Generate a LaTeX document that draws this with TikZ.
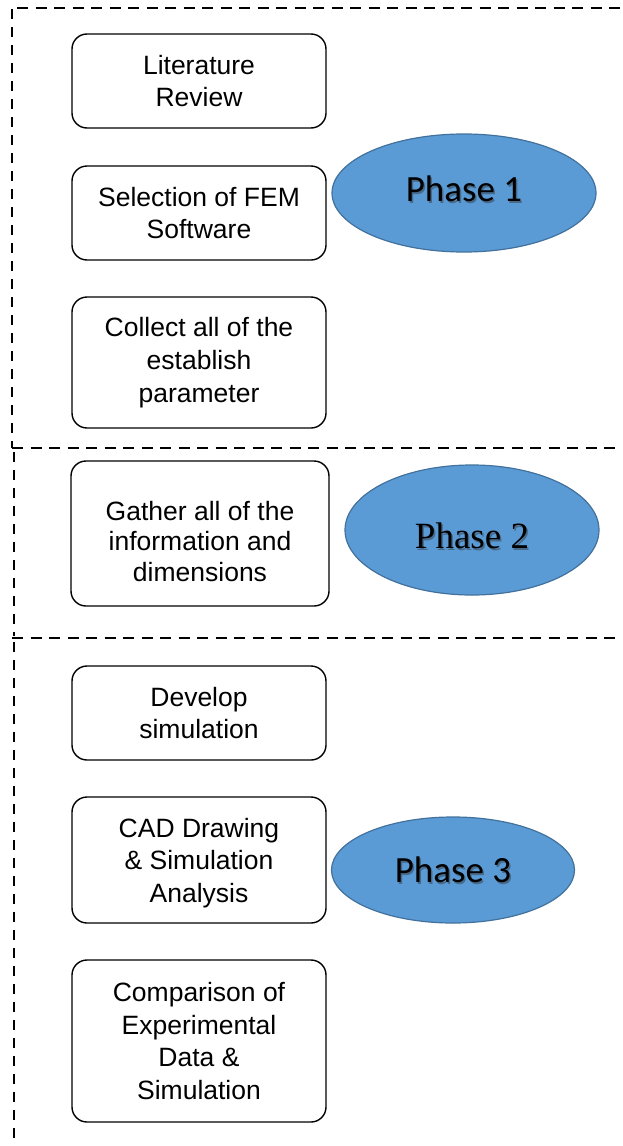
\documentclass[tikz,border=0pt]{standalone}
\usepackage{fontspec}
\setmainfont{Liberation Sans}
\newfontfamily\calibrif{Carlito}
\newfontfamily\timesf{Liberation Serif}
\usetikzlibrary{shapes.geometric}
\definecolor{phasefill}{HTML}{5B9BD5}
\definecolor{phaseedge}{HTML}{41719C}
\definecolor{shadowc}{HTML}{3A4A5A}
\tikzset{
  stepbox/.style={draw=black, line width=1.4pt, rounded corners=15pt, align=center,
    inner sep=0pt, font=\fontsize{26.5}{32.7}\selectfont},
  steptext/.style={align=center, inner sep=0pt, font=\fontsize{26.5}{32.7}\selectfont},
  phase/.style={ellipse, draw=phaseedge, line width=1.2pt, fill=phasefill, inner sep=0pt},
  phaseshadow/.style={text=shadowc, opacity=0.6},
  hdash/.style={line width=2.6pt, dash pattern=on 11pt off 7.5pt},
  vdash/.style={line width=2.6pt, dash pattern=on 10pt off 8pt},
}
\begin{document}
\begin{tikzpicture}[x=1pt,y=-1pt]
\useasboundingbox (0,0) rectangle (622,1146);
% region borders
\draw[hdash] (17,8) -- (622,8);
\draw[vdash] (12,9) -- (12,448);
\draw[hdash] (12,448) -- (622,448);
\draw[vdash] (14,452) -- (14,636);
\draw[hdash] (12,638) -- (622,638);
\draw[vdash] (14,642) -- (14,1146);
% phase 1 boxes
\node[stepbox, minimum width=254pt, minimum height=94pt] (lit) at (199,81) {Literature\\Review};
\node[stepbox, minimum width=254pt, minimum height=94pt] (sel) at (199,213) {Selection of FEM\\Software};
\node[stepbox, minimum width=254pt, minimum height=131pt] (col) at (199,362.5) {Collect all of the\\establish\\parameter};
% phase 2 box
\node[stepbox, minimum width=258pt, minimum height=145pt] (gatbox) at (200,533.5) {};
\node[steptext, font=\fontsize{26.5}{30.7}\selectfont, yshift=-8pt] (gat) at (gatbox.center) {Gather all of the\\information and\\dimensions};
% phase 3 boxes
\node[stepbox, minimum width=254pt, minimum height=94pt] (dev) at (199,713) {Develop\\simulation};
\node[stepbox, minimum width=254pt, minimum height=126pt] (cadbox) at (199,860) {};
\node[steptext, yshift=-3pt] (cad) at (cadbox.center) {CAD Drawing\\\& Simulation\\Analysis};
\node[stepbox, minimum width=254pt, minimum height=162pt] (cmp) at (199,1041) {Comparison of\\Experimental\\Data \&\\Simulation};
% phase ellipses
\node[phase, minimum width=264pt, minimum height=118pt] (p1) at (464,193) {};
\node[phaseshadow, font=\calibrif\fontsize{37}{40}\selectfont, xshift=1.5pt, yshift=2.5pt] (p1s) at (p1.center) {Phase 1};
\node[font=\calibrif\fontsize{37}{40}\selectfont, yshift=4pt] (p1t) at (p1.center) {Phase 1};
\node[phase, minimum width=254pt, minimum height=130pt] (p2) at (472,530) {};
\node[phaseshadow, font=\timesf\fontsize{37}{40}\selectfont, xshift=1.5pt, yshift=-7.5pt] (p2s) at (p2.center) {Phase 2};
\node[font=\timesf\fontsize{37}{40}\selectfont, yshift=-6pt] (p2t) at (p2.center) {Phase 2};
\node[phase, minimum width=243pt, minimum height=106pt] (p3) at (453,870) {};
\node[phaseshadow, font=\calibrif\fontsize{37}{40}\selectfont, xshift=1.5pt, yshift=-1.5pt] (p3s) at (p3.center) {Phase 3};
\node[font=\calibrif\fontsize{37}{40}\selectfont] (p3t) at (p3.center) {Phase 3};
\end{tikzpicture}
\end{document}
